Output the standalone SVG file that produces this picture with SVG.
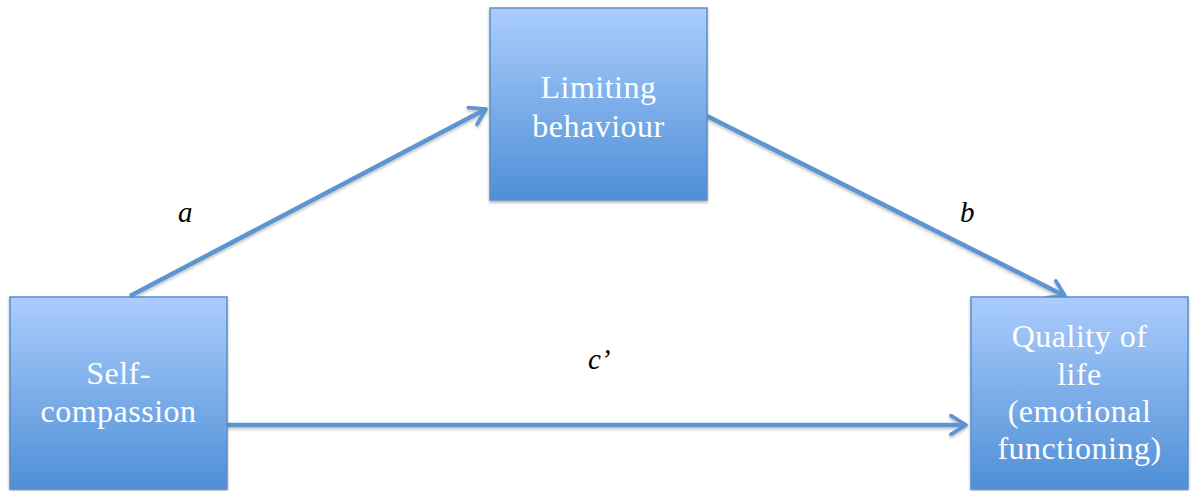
<svg xmlns="http://www.w3.org/2000/svg" width="1195" height="491" viewBox="0 0 1195 491">
<style>
.box{fill:url(#g);stroke:#5a8ec8;stroke-width:1.5;filter:url(#sh)}
.t{font-family:"Liberation Serif","DejaVu Serif",serif;font-size:32px;letter-spacing:0.5px;fill:#ffffff;text-anchor:middle}
.lbl{font-family:"Liberation Serif","DejaVu Serif",serif;font-size:29px;font-style:italic;fill:#000}
.c{stroke:#5b95d1;stroke-width:4.5;fill:none;marker-end:url(#ah);filter:url(#shc)}
</style>
<defs>
<linearGradient id="g" x1="0" y1="0" x2="0" y2="1">
<stop offset="0" stop-color="#abcdfd"/>
<stop offset="1" stop-color="#4f8fd6"/>
</linearGradient>
<filter id="sh" x="-10%" y="-10%" width="120%" height="120%">
<feDropShadow dx="0" dy="2" stdDeviation="1.5" flood-color="#000" flood-opacity="0.3"/>
</filter>
<filter id="shc" filterUnits="userSpaceOnUse" x="0" y="0" width="1195" height="491">
<feDropShadow dx="0" dy="2" stdDeviation="1.5" flood-color="#000" flood-opacity="0.25"/>
</filter>
<marker id="ah" viewBox="0 0 12 12" refX="10" refY="6" markerWidth="5" markerHeight="5" orient="auto" markerUnits="strokeWidth">
<path d="M2,1 L10,6 L2,11" fill="none" stroke="#5b95d1" stroke-width="2" stroke-linecap="round" stroke-linejoin="round"/>
</marker>
</defs>
<g id="connectors">
<line class="c" x1="130" y1="296" x2="486" y2="109"/>
<line class="c" x1="707" y1="116" x2="1065" y2="296"/>
<line class="c" x1="227" y1="425" x2="966" y2="425"/>
</g>
<g id="limiting">
<rect class="box" x="490" y="8" width="217" height="192"/>
<text class="t" x="598.5" y="98">Limiting</text>
<text class="t" x="598.5" y="137">behaviour</text>
</g>
<g id="self">
<rect class="box" x="10" y="297" width="217" height="192"/>
<text class="t" x="118.5" y="384">Self-</text>
<text class="t" x="118.5" y="422">compassion</text>
</g>
<g id="qol">
<rect class="box" x="971" y="297" width="217" height="192"/>
<text class="t" x="1079.5" y="347">Quality of</text>
<text class="t" x="1079.5" y="385">life</text>
<text class="t" x="1079.5" y="422">(emotional</text>
<text class="t" x="1079.5" y="459">functioning)</text>
</g>
<g id="labels">
<text class="lbl" x="178" y="222">a</text>
<text class="lbl" x="960" y="222">b</text>
<text class="lbl" x="588" y="369">c’</text>
</g>
</svg>
